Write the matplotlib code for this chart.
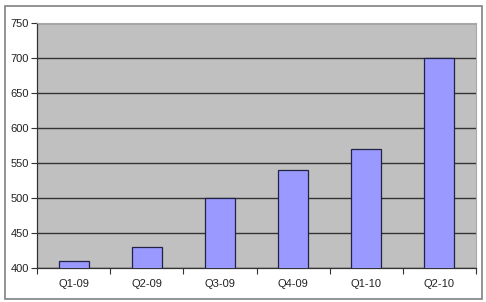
import matplotlib.pyplot as plt
from matplotlib.patches import Rectangle
import numpy as np

categories = ['Q1-09', 'Q2-09', 'Q3-09', 'Q4-09', 'Q1-10', 'Q2-10']
values = [410, 430, 500, 540, 570, 700]
y_ticks = [400, 450, 500, 550, 600, 650, 700, 750]

plt.rcParams['font.family'] = ['Liberation Sans', 'DejaVu Sans']

W, H = 486, 302
fig = plt.figure(figsize=(W / 100, H / 100), dpi=100)

# outer chart border
fig.patches.append(Rectangle((5 / W, 3 / H), 477 / W, 293 / H, transform=fig.transFigure,
                             fill=False, edgecolor='#808080', linewidth=1.2))

ax = fig.add_axes([37 / W, (H - 268) / H, (476 - 37) / W, (268 - 23) / H])
ax.set_facecolor('#C0C0C0')

x = np.arange(len(categories))
ax.set_axisbelow(True)
ax.yaxis.grid(True, color='#333333', linewidth=1.0)
ax.bar(x, values, width=0.41, color='#9999FF', edgecolor='#222244', linewidth=0.9,
       zorder=3)

ax.set_xlim(-0.5, len(categories) - 0.5)
ax.set_ylim(400, 750)
ax.set_yticks(y_ticks)
ax.set_xticks(x)
ax.set_xticklabels(categories)
ax.set_xticks(np.arange(-0.5, len(categories), 1), minor=True)

ax.tick_params(axis='y', direction='out', length=4, width=0.8, color='#333333',
               labelsize=8, pad=2, labelcolor='#222222')
ax.tick_params(axis='x', which='major', length=0, labelsize=8, pad=8,
               labelcolor='#222222')
ax.tick_params(axis='x', which='minor', direction='out', length=4, width=0.8,
               color='#333333')

for side in ['top', 'right']:
    ax.spines[side].set_color('#A8A8A8')
    ax.spines[side].set_linewidth(0.8)
for side in ['left', 'bottom']:
    ax.spines[side].set_color('#333333')
    ax.spines[side].set_linewidth(0.9)

fig.savefig('out.png', dpi=100)
